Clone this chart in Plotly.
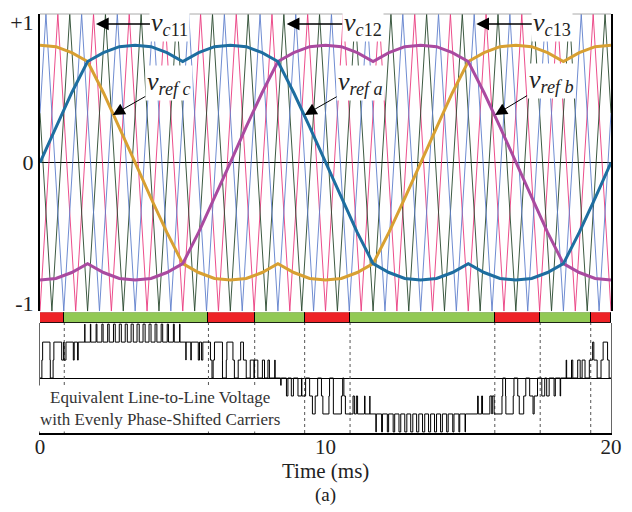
import numpy as np
import plotly.graph_objects as go

# ---------------- data ----------------
t_ms = [0.000, 0.556, 1.111, 1.667, 2.222, 2.778, 3.333, 3.889, 4.444, 5.000,
        5.556, 6.111, 6.667, 7.222, 7.778, 8.333, 8.889, 9.444, 10.000,
        10.556, 11.111, 11.667, 12.222, 12.778, 13.333, 13.889, 14.444, 15.000,
        15.556, 16.111, 16.667, 17.222, 17.778, 18.333, 18.889, 19.444, 20.000]

vref_a = [0.00, 0.24, 0.47, 0.68, 0.74, 0.78, 0.79, 0.78, 0.74, 0.68,
          0.74, 0.78, 0.79, 0.78, 0.74, 0.68, 0.47, 0.24, 0.00, -0.24,
          -0.47, -0.68, -0.74, -0.78, -0.79, -0.78, -0.74, -0.68, -0.74, -0.78,
          -0.79, -0.78, -0.74, -0.68, -0.47, -0.24, 0.00]
vref_b = [-0.79, -0.78, -0.74, -0.68, -0.74, -0.78, -0.79, -0.78, -0.74, -0.68,
          -0.47, -0.24, 0.00, 0.24, 0.47, 0.68, 0.74, 0.78, 0.79, 0.78,
          0.74, 0.68, 0.74, 0.78, 0.79, 0.78, 0.74, 0.68, 0.47, 0.24,
          0.00, -0.24, -0.47, -0.68, -0.74, -0.78, -0.79]
vref_c = [0.79, 0.78, 0.74, 0.68, 0.47, 0.24, 0.00, -0.24, -0.47, -0.68,
          -0.74, -0.78, -0.79, -0.78, -0.74, -0.68, -0.74, -0.78, -0.79, -0.78,
          -0.74, -0.68, -0.47, -0.24, 0.00, 0.24, 0.47, 0.68, 0.74, 0.78,
          0.79, 0.78, 0.74, 0.68, 0.74, 0.78, 0.79]

# carrier vertices (time ms, value)
vc11_t = [0.000, 0.625, 1.250, 1.875, 2.500, 3.125, 3.750, 4.375, 5.000, 5.625,
          6.250, 6.875, 7.500, 8.125, 8.750, 9.375, 10.000, 10.625, 11.250, 11.875,
          12.500, 13.125, 13.750, 14.375, 15.000, 15.625, 16.250, 16.875, 17.500,
          18.125, 18.750, 19.375, 20.000]
vc11_v = [-1, 1, -1, 1, -1, 1, -1, 1, -1, 1, -1, 1, -1, 1, -1, 1, -1,
          1, -1, 1, -1, 1, -1, 1, -1, 1, -1, 1, -1, 1, -1, 1, -1]
vc12_t = [0.000, 0.417, 1.042, 1.667, 2.292, 2.917, 3.542, 4.167, 4.792, 5.417,
          6.042, 6.667, 7.292, 7.917, 8.542, 9.167, 9.792, 10.417, 11.042, 11.667,
          12.292, 12.917, 13.542, 14.167, 14.792, 15.417, 16.042, 16.667, 17.292,
          17.917, 18.542, 19.167, 19.792, 20.000]
vc12_v = [0.333, -1, 1, -1, 1, -1, 1, -1, 1, -1, 1, -1, 1, -1, 1, -1, 1,
          -1, 1, -1, 1, -1, 1, -1, 1, -1, 1, -1, 1, -1, 1, -1, 1, 0.333]
vc13_t = [0.000, 0.208, 0.833, 1.458, 2.083, 2.708, 3.333, 3.958, 4.583, 5.208,
          5.833, 6.458, 7.083, 7.708, 8.333, 8.958, 9.583, 10.208, 10.833, 11.458,
          12.083, 12.708, 13.333, 13.958, 14.583, 15.208, 15.833, 16.458, 17.083,
          17.708, 18.333, 18.958, 19.583, 20.000]
vc13_v = [0.333, 1, -1, 1, -1, 1, -1, 1, -1, 1, -1, 1, -1, 1, -1, 1, -1,
          1, -1, 1, -1, 1, -1, 1, -1, 1, -1, 1, -1, 1, -1, 1, -1, 0.333]

# red / green region bar
seg_start = [0.00, 0.85, 5.90, 7.52, 9.27, 10.86, 15.93, 17.52, 19.29]
seg_end = [0.85, 5.90, 7.52, 9.27, 10.86, 15.93, 17.52, 19.29, 20.00]
seg_kind = ["red", "green", "red", "green", "red", "green", "red", "green", "red"]

x_ticks = [0, 10, 20]
y_tick_vals = [0.947, 0, -0.947]
y_tick_text = ["+1", "0", "-1"]

# ---------------- styles ----------------
FONT = "Liberation Serif"
carrier_styles = [(vc11_t, vc11_v, "#ea3a7e"), (vc12_t, vc12_v, "#27472c"),
                  (vc13_t, vc13_v, "#5f7fcc")]
ref_styles = [(vref_c, "#d8a032"), (vref_b, "#aa4aa0"), (vref_a, "#1e6ea0")]
seg_colors = {"red": "#ee2226", "green": "#92c955"}

fig = go.Figure()

for ct, cv, col in carrier_styles:
    fig.add_trace(go.Scatter(x=ct, y=cv, mode="lines", line=dict(color=col, width=0.9),
                             xaxis="x", yaxis="y", hoverinfo="skip", showlegend=False))
for rv, col in ref_styles:
    fig.add_trace(go.Scatter(x=t_ms, y=rv, mode="lines", line=dict(color=col, width=3),
                             xaxis="x", yaxis="y", hoverinfo="skip", showlegend=False))

# bar of regions
fig.add_trace(go.Bar(y=[0] * len(seg_start),
                     x=[e - s for s, e in zip(seg_start, seg_end)],
                     base=seg_start, orientation="h", width=1,
                     marker=dict(color=[seg_colors[k] for k in seg_kind],
                                 line=dict(color="black", width=1)),
                     xaxis="x", yaxis="y2", hoverinfo="skip", showlegend=False))

# equivalent line-to-line voltage from reference / carrier comparison
tt = np.linspace(0, 20, 80001)
ra = np.interp(tt, t_ms, vref_a)
rb = np.interp(tt, t_ms, vref_b)
na = np.zeros_like(tt, dtype=int)
nb = np.zeros_like(tt, dtype=int)
for ct, cv, _ in carrier_styles:
    c = np.interp(tt, ct, cv)
    na += (ra > c).astype(int)
    nb += (rb > c).astype(int)
lvl = na - nb
idx = np.concatenate(([0], np.nonzero(np.diff(lvl))[0] + 1))
xs = list(tt[idx]) + [20.0]
ys = list(lvl[idx]) + [lvl[-1]]

# dotted boundaries
bx, by = [], []
for b in seg_start[1:]:
    bx += [b, b, None]
    by += [-3.06, 3.06, None]
fig.add_trace(go.Scatter(x=bx, y=by, mode="lines",
                         line=dict(color="#555", width=1, dash="dot"),
                         xaxis="x", yaxis="y3", hoverinfo="skip", showlegend=False))
fig.add_trace(go.Scatter(x=xs, y=ys, mode="lines", line=dict(color="black", width=1, shape="hv"),
                         xaxis="x", yaxis="y3", hoverinfo="skip", showlegend=False))

# ---------------- annotations ----------------
ann = []
def arrow_label(x, y, text, ax, ay, aw, asz, size=26):
    ann.append(dict(x=x, y=y, xref="x", yref="y", text=text, showarrow=True,
                    ax=ax, ay=ay, arrowhead=2, arrowsize=asz, arrowwidth=aw,
                    arrowcolor="black", bgcolor="white", borderpad=1,
                    font=dict(family=FONT, size=size, color="#222")))

arrow_label(1.96, 0.933, "<i>v</i><sub><i>c</i>11</sub>", 74, 0, 1.5, 1.7)
arrow_label(8.64, 0.933, "<i>v</i><sub><i>c</i>12</sub>", 76, 0, 1.5, 1.7)
arrow_label(15.28, 0.933, "<i>v</i><sub><i>c</i>13</sub>", 76, 0, 1.5, 1.7)
arrow_label(2.55, 0.32, "<i>v</i><sub><i>ref c</i></sub>", 56, -32, 1, 2.4)
arrow_label(9.27, 0.32, "<i>v</i><sub><i>ref a</i></sub>", 56, -32, 1, 2.4)
arrow_label(15.94, 0.32, "<i>v</i><sub><i>ref b</i></sub>", 56, -34, 1, 2.4)

ann.append(dict(x=4.2, y=-1.72, xref="x", yref="y3",
                text="Equivalent Line-to-Line Voltage<br>with Evenly Phase-Shifted Carriers",
                showarrow=False, bgcolor="white", borderpad=2,
                font=dict(family=FONT, size=17, color="#333")))
ann.append(dict(x=0.5, y=-0.09, xref="paper", yref="paper", text="Time (ms)",
                showarrow=False, yanchor="middle",
                font=dict(family=FONT, size=21, color="#222")))
ann.append(dict(x=0.5, y=-0.147, xref="paper", yref="paper", text="(a)",
                showarrow=False, yanchor="middle",
                font=dict(family=FONT, size=19, color="#222")))

fig.update_layout(
    width=632, height=512,
    margin=dict(l=40, r=20, t=10, b=79),
    paper_bgcolor="white", plot_bgcolor="white",
    showlegend=False, bargap=0,
    font=dict(family=FONT, color="#222"),
    xaxis=dict(range=[0, 20], anchor="y3", tickvals=x_ticks, ticks="",
               ticklabelstandoff=-6,
               tickfont=dict(size=21, family=FONT), showgrid=False, zeroline=False,
               showline=True, linecolor="black", linewidth=1.5),
    yaxis=dict(domain=[0.2908, 1.0], range=[-1, 1], tickvals=y_tick_vals,
               ticktext=y_tick_text, ticks="", tickfont=dict(size=22, family=FONT),
               showgrid=False, zeroline=True, zerolinecolor="black", zerolinewidth=1,
               showline=True, linecolor="black", linewidth=2, mirror=True),
    yaxis2=dict(domain=[0.2624, 0.2884], range=[-0.5, 0.5], showticklabels=False,
                showgrid=False, zeroline=False),
    yaxis3=dict(domain=[0, 0.2624], range=[-3.06, 3.06], showticklabels=False,
                showgrid=False, zeroline=True, zerolinecolor="black", zerolinewidth=1,
                showline=True, linecolor="#666", linewidth=1, mirror=True),
    annotations=ann,
    shapes=[dict(type="line", xref="paper", yref="paper", x0=0, x1=1, y0=1, y1=1,
                 line=dict(color="#aaa", width=1))],
)

fig.write_html("out.html")
